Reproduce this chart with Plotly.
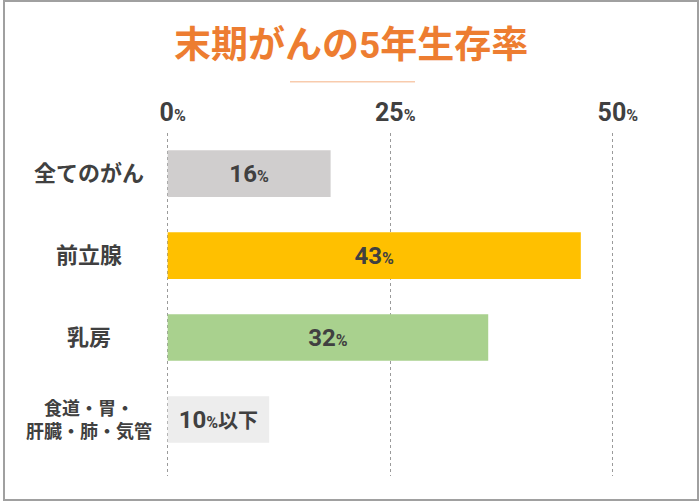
import plotly.graph_objects as go

# ---- data ----
categories = ["全てのがん", "前立腺", "乳房", "食道・胃・<br>肝臓・肺・気管"]
bar_values = [18.3, 46.4, 36.0, 11.4]          # bar lengths as read against the axis
bar_labels = ["16", "43", "32", "10"]
bar_suffix = ["%", "%", "%", "%以下"]
bar_colors = ["#D0CECE", "#FFC000", "#A9D18E", "#EDEDED"]
tick_values = [0, 25, 50]
tick_labels = ["0", "25", "50"]
title_text = "末期がんの5年生存率"

W, H = 700, 502
L, R, T, B = 165, 42, 133, 26
PW, PH = W - L - R, H - T - B
K = 8.904
X0 = -0.3
X1 = PW / K + X0

def px_x(px):
    return (px - L) / PW

def px_y(py):
    return (H - B - py) / PH

FONT = "Roboto, 'Noto Sans CJK JP', sans-serif"
TXT = "#404040"

def pct(num, suf, small=16):
    out = num
    if suf.startswith("%"):
        out += f"<span style='font-size:{small}px'>%</span>"
        rest = suf[1:]
        if rest:
            out += f"<span style='font-size:20px'>{rest}</span>"
    return out

texts = [pct(n, s) for n, s in zip(bar_labels, bar_suffix)]
ticktext = [pct(t, "%") for t in tick_labels]

fig = go.Figure()
fig.add_trace(go.Bar(
    y=list(range(len(categories))),
    x=bar_values,
    orientation="h",
    width=0.57,
    marker=dict(color=bar_colors, line=dict(width=0)),
    text=texts,
    textposition="inside",
    insidetextanchor="middle",
    textangle=0,
    constraintext="none",
    textfont=dict(family=FONT, size=24, color=TXT, weight="bold"),
    hoverinfo="skip",
))

annotations = []
for i, c in enumerate(categories):
    small = "<br>" in c
    annotations.append(dict(
        x=px_x(89), xref="paper", y=i, yref="y",
        text=c, showarrow=False, xanchor="center", yanchor="middle",
        align="center",
        font=dict(family=FONT, size=18 if small else 22, color=TXT, weight="bold"),
    ))
annotations.append(dict(
    x=px_x(351), xref="paper", y=px_y(45), yref="paper",
    text=title_text, showarrow=False, xanchor="center", yanchor="middle",
    font=dict(family=FONT, size=37, color="#ED7D31", weight="bold"),
))

shapes = [
    dict(type="line", xref="paper", yref="paper",
         x0=px_x(290), x1=px_x(415), y0=px_y(81.7), y1=px_y(81.7),
         line=dict(color="#F8CBAD", width=1.5)),
    dict(type="rect", xref="paper", yref="paper",
         x0=px_x(4), x1=px_x(698), y0=px_y(500), y1=px_y(1),
         line=dict(color="#A0A0A0", width=2), layer="below"),
]

fig.update_layout(
    width=W, height=H,
    margin=dict(l=L, r=R, t=T, b=B, pad=0),
    paper_bgcolor="white", plot_bgcolor="white",
    showlegend=False,
    xaxis=dict(
        side="top", range=[X0, X1],
        tickvals=tick_values, ticktext=ticktext,
        tickfont=dict(family=FONT, size=25, color=TXT, weight="bold"),
        showgrid=True, gridcolor="#9A9A9A", gridwidth=1, griddash="dot",
        zeroline=False, showline=False, ticks="",
        ticklabelshift=5, ticklabelstandoff=6,
    ),
    yaxis=dict(
        range=[3.689, -0.494], showticklabels=False, showgrid=False,
        zeroline=False, showline=False, ticks="",
    ),
    annotations=annotations,
    shapes=shapes,
    uniformtext=dict(mode=False),
)

fig.write_html(
    "out.html",
    config={"displayModeBar": False},
    post_script="document.body.style.margin='0';document.body.style.padding='0';document.body.style.overflow='hidden';",
)
